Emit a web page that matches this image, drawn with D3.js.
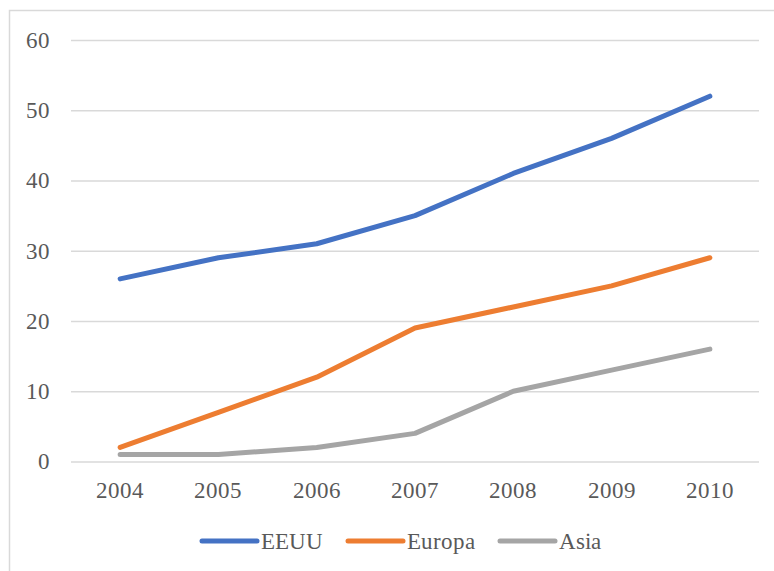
<!DOCTYPE html>
<html>
<head>
<meta charset="utf-8">
<script src="https://cdn.jsdelivr.net/npm/d3@7"></script>
<style>
  @font-face { font-family: 'ChartSerif'; src: local('Liberation Serif'), local('LiberationSerif'), local('Liberation Serif Regular'), local('LiberationSerif-Regular'); }
  html, body { margin: 0; padding: 0; background: #fff; }
  svg { display: block; }
  svg text { font-family: 'ChartSerif', 'Liberation Serif', serif; }
</style>
</head>
<body>
<script>
const years = ["2004", "2005", "2006", "2007", "2008", "2009", "2010"];
const eeuu = [26, 29, 31, 35, 41, 46, 52];
const europa = [2, 7, 12, 19, 22, 25, 29];
const asia = [1, 1, 2, 4, 10, 13, 16];
const seriesNames = ["EEUU", "Europa", "Asia"];
const seriesColors = ["#4472C4", "#ED7D31", "#A5A5A5"];
const yTicks = [0, 10, 20, 30, 40, 50, 60];

const W = 774, H = 571;
const svg = d3.select("body").append("svg").attr("width", W).attr("height", H);

// chart area border
svg.append("rect")
  .attr("x", 9.5).attr("y", 10.5)
  .attr("width", W + 20).attr("height", H + 20)
  .attr("fill", "none").attr("stroke", "#d9d9d9").attr("stroke-width", 1.5);

const pLeft = 71, pRight = 759, pTop = 40, pBottom = 461.5;

const x = d3.scaleBand().domain(years).range([pLeft, pRight]);
const y = d3.scaleLinear().domain([0, 60]).range([pBottom, pTop]);

function styleText(sel) {
  sel.style("font-family", "'ChartSerif', 'Liberation Serif', serif")
    .style("font-size", "23px")
    .attr("fill", "#595959");
}

// gridlines + y labels
const yAxis = d3.axisLeft(y).tickValues(yTicks).tickSize(-(pRight - pLeft)).tickPadding(21).tickFormat(d3.format("d"));
const gy = svg.append("g").attr("transform", `translate(${pLeft},0)`).call(yAxis);
gy.attr("font-family", null).attr("font-size", null);
gy.select(".domain").remove();
gy.selectAll(".tick line").attr("stroke", "#d9d9d9").attr("stroke-width", 1.5);
gy.selectAll(".tick text").call(styleText);

// x axis labels
const xAxis = d3.axisBottom(x).tickSize(0).tickPadding(20);
const gx = svg.append("g").attr("transform", `translate(0,${pBottom})`).call(xAxis);
gx.attr("font-family", null).attr("font-size", null);
gx.select(".domain").remove();
gx.selectAll(".tick text").call(styleText);

const seriesData = [eeuu, europa, asia];
const line = d3.line()
  .x((d, i) => x(years[i]) + x.bandwidth() / 2)
  .y(d => y(d));

seriesData.forEach((vals, k) => {
  svg.append("path")
    .datum(vals)
    .attr("d", line)
    .attr("fill", "none")
    .attr("stroke", seriesColors[k])
    .attr("stroke-width", 5)
    .attr("stroke-linejoin", "round")
    .attr("stroke-linecap", "round");
});

// legend
const legendY = 541;
const legendX = [202, 348, 500];
seriesNames.forEach((name, k) => {
  svg.append("line")
    .attr("x1", legendX[k]).attr("x2", legendX[k] + 55)
    .attr("y1", legendY).attr("y2", legendY)
    .attr("stroke", seriesColors[k]).attr("stroke-width", 5).attr("stroke-linecap", "round");
  svg.append("text").attr("x", legendX[k] + 59).attr("y", legendY + 8).text(name).call(styleText);
});
</script>
</body>
</html>
